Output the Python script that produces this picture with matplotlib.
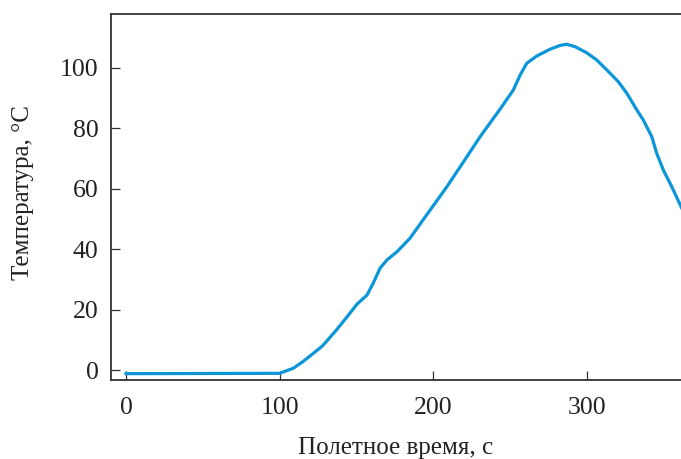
import matplotlib
matplotlib.use("Agg")
from matplotlib import pyplot as plt

plt.rcParams["font.family"] = ["Liberation Serif", "DejaVu Serif"]

# flight time, s and measured temperature, deg C
time_s = [0, 100, 109, 115, 122, 128, 137, 144, 150.5, 157, 161, 165.5, 170,
          176.5, 185, 195, 209, 222, 230.6, 237, 244, 252.3, 256.7, 261,
          267.5, 276, 282.7, 287, 292.5, 300, 306.6, 313.2, 320.7, 326.2,
          332.7, 337, 342.5, 345.7, 350, 355.5, 362]
temp_c = [-1.2, -1.1, 0.6, 2.7, 5.5, 8, 13.2, 17.6, 21.8, 24.8, 28.7, 33.7,
          36.4, 39.1, 43.6, 50.7, 60.6, 70.5, 77.1, 81.6, 86.5, 92.6, 97.5,
          101.4, 103.8, 106, 107.3, 107.7, 106.9, 104.9, 102.5, 99.2, 95.3,
          91.5, 86, 82.6, 77.1, 71.6, 66.1, 60.6, 53.5]

x_ticks = [0, 100, 200, 300]
y_ticks = [0, 20, 40, 60, 80, 100]

fig = plt.figure(figsize=(6.81, 4.59), dpi=100)
ax = fig.add_axes([111 / 681, 1 - 380 / 459, 1 - 111 / 681, (380 - 14) / 459])

ax.plot(time_s, temp_c, color="#0a96d8", lw=2.3, solid_joinstyle="round")

ax.set_xlim(-9.8, 361.5)
ax.set_ylim(-3.3, 117.7)
ax.set_xticks(x_ticks)
ax.set_yticks(y_ticks)

for side in ["left", "bottom", "top"]:
    ax.spines[side].set_color("#333333")
    ax.spines[side].set_linewidth(1.3)
ax.spines["right"].set_visible(False)

ax.tick_params(axis="both", direction="in", length=6.5, width=0.9,
               color="#333333", labelsize=18.5, labelcolor="#222222")
ax.tick_params(axis="x", pad=12)
ax.tick_params(axis="y", pad=9)

ax.set_xlabel("Полетное время, с", fontsize=18, color="#222222", labelpad=13)
fig.text(23 / 681, 1 - 193 / 459, "Температура, °C", rotation=90,
         ha="center", va="center", fontsize=18, color="#222222")

fig.savefig("out.png", dpi=100)
